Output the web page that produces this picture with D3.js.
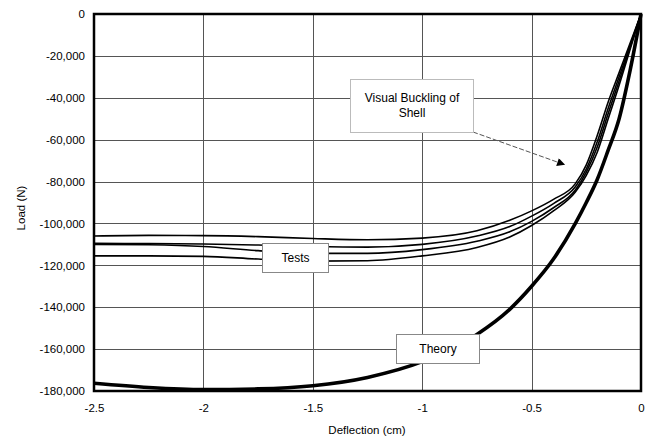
<!DOCTYPE html>
<html>
<head>
<meta charset="utf-8">
<script src="https://cdn.jsdelivr.net/npm/d3@7"></script>
<style>
  html, body { margin: 0; padding: 0; background: #fff; }
  svg { display: block; }
  text { font-family: "Liberation Sans", Arial, sans-serif; fill: #000; }
</style>
</head>
<body>
<svg id="chart" width="650" height="438"></svg>
<script>
// Axis ticks
const xTicks = [-2.5, -2, -1.5, -1, -0.5, 0];
const yTicks = [0, -20000, -40000, -60000, -80000, -100000, -120000, -140000, -160000, -180000];

// Shared deflection stations (cm)
const deflection = [-2.5, -2.25, -2.0, -1.75, -1.5, -1.25, -1.0, -0.75, -0.6, -0.5, -0.4, -0.3, -0.25, -0.2, -0.15, -0.1, -0.05, 0];

// Measured load (N) for the four shell tests
const testA = [-106000, -105700, -105800, -106300, -107200, -107800, -107000, -103500, -98500, -94000, -88500, -81000, -72000, -58000, -42000, -28000, -14000, 0];
const testB = [-109500, -109600, -109800, -110300, -111000, -111300, -110000, -106000, -101500, -96500, -90500, -82500, -74000, -61000, -45000, -30000, -15000, 0];
const testC = [-110000, -110200, -111000, -113000, -114300, -114300, -112500, -108500, -104000, -99000, -92500, -84000, -75500, -63500, -47500, -32000, -16000, 0];
const testD = [-115500, -115500, -115700, -117000, -118000, -117800, -115500, -111500, -106500, -101000, -94000, -85000, -77000, -66000, -50000, -34000, -17000, 0];

// Theoretical load-deflection curve (N)
const theory = [-176300, -178300, -179300, -179000, -177500, -173500, -166000, -153000, -141000, -130000, -117000, -100000, -90000, -79000, -65000, -50000, -27000, 0];

const svg = d3.select("#chart");
const plotLeft = 94, plotRight = 641, plotTop = 14, plotBottom = 391;

const x = d3.scaleLinear().domain([-2.5, 0]).range([plotLeft, plotRight]);
const y = d3.scaleLinear().domain([-180000, 0]).range([plotBottom, plotTop]);

// Grid
const grid = svg.append("g").attr("stroke", "#555").attr("stroke-width", 1);
grid.selectAll("line.h").data(yTicks.filter(d => d !== 0 && d !== -180000)).join("line")
  .attr("x1", plotLeft).attr("x2", plotRight)
  .attr("y1", d => Math.round(y(d)) + 0.5).attr("y2", d => Math.round(y(d)) + 0.5);
grid.selectAll("line.v").data(xTicks.filter(d => d !== 0 && d !== -2.5)).join("line")
  .attr("y1", plotTop).attr("y2", plotBottom)
  .attr("x1", d => Math.round(x(d)) + 0.5).attr("x2", d => Math.round(x(d)) + 0.5);

// Axes (labels only; frame drawn separately), plain hyphen for negatives
const fmt = d3.format(",");
const hyphen = s => s.replace("\u2212", "-");
const yAxis = svg.append("g").attr("transform", `translate(${plotLeft},0)`)
  .call(d3.axisLeft(y).tickValues(yTicks).tickFormat(d => hyphen(fmt(d))).tickSize(0).tickPadding(9));
const xAxis = svg.append("g").attr("transform", `translate(0,${plotBottom})`)
  .call(d3.axisBottom(x).tickValues(xTicks).tickFormat(d => String(d)).tickSize(0).tickPadding(13));
[yAxis, xAxis].forEach(a => {
  a.select(".domain").remove();
  a.selectAll("text").attr("font-size", 11.5).attr("font-family", "Liberation Sans, Arial, sans-serif");
});

// Curves
const line = d3.line().x(d => x(d[0])).y(d => y(d[1])).curve(d3.curveMonotoneX);
const pairs = arr => deflection.map((d, i) => [d, arr[i]]);

const plot = svg.append("g");
[testA, testB, testC, testD].forEach(s => {
  plot.append("path").attr("d", line(pairs(s)))
    .attr("fill", "none").attr("stroke", "#000").attr("stroke-width", 1.6);
});
plot.append("path").attr("d", line(pairs(theory)))
  .attr("fill", "none").attr("stroke", "#000").attr("stroke-width", 3.6);

// Plot frame
svg.append("rect").attr("x", plotLeft).attr("y", plotTop)
  .attr("width", plotRight - plotLeft).attr("height", plotBottom - plotTop)
  .attr("fill", "none").attr("stroke", "#000").attr("stroke-width", 2.5);

// Annotation: visual buckling
svg.append("defs").append("marker")
  .attr("id", "arrow").attr("viewBox", "0 0 10 10").attr("refX", 10).attr("refY", 5)
  .attr("markerWidth", 16).attr("markerHeight", 8).attr("markerUnits", "userSpaceOnUse")
  .attr("orient", "auto")
  .append("path").attr("d", "M0,0 L10,5 L0,10 Z").attr("fill", "#000");
svg.append("line")
  .attr("x1", 473).attr("y1", 132).attr("x2", x(-0.347)).attr("y2", y(-72000))
  .attr("stroke", "#555").attr("stroke-width", 1).attr("stroke-dasharray", "5,2")
  .attr("marker-end", "url(#arrow)");

function labelBox(x0, y0, w, h, lines, cy, dy, stroke) {
  svg.append("rect").attr("x", x0).attr("y", y0).attr("width", w).attr("height", h)
    .attr("fill", "#fff").attr("stroke", stroke).attr("stroke-width", 1);
  lines.forEach((t, i) => {
    svg.append("text").attr("x", x0 + w / 2).attr("y", cy + i * dy)
      .attr("text-anchor", "middle").attr("dominant-baseline", "central")
      .attr("font-size", 12).text(t);
  });
}
labelBox(350.5, 79.5, 123, 53, ["Visual Buckling of", "Shell"], 98, 15, "#bbb");
labelBox(262.5, 243.5, 66, 29, ["Tests"], 258, 0, "#888");
labelBox(396.5, 334.5, 83, 29, ["Theory"], 349, 0, "#888");

// Axis titles
svg.append("text").attr("x", 367).attr("y", 434).attr("text-anchor", "middle")
  .attr("font-size", 11.5).text("Deflection (cm)");
svg.append("text").attr("transform", "translate(25,208) rotate(-90)")
  .attr("text-anchor", "middle").attr("font-size", 11.5).text("Load (N)");
</script>
</body>
</html>
